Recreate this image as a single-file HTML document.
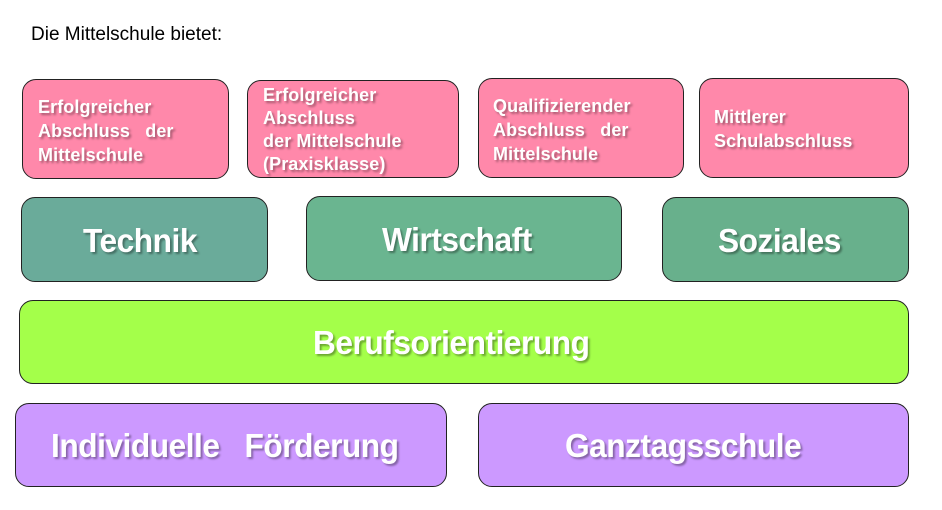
<!DOCTYPE html>
<html><head><meta charset="utf-8"><style>
body{margin:0;width:942px;height:510px;background:#fff;position:relative;overflow:hidden;font-family:"Liberation Sans",Arial,sans-serif}
.b{position:absolute;border:1.3px solid #222;border-radius:14px;box-sizing:border-box}
.t{position:absolute;color:#fff;font-weight:bold;text-shadow:2px 2px 2px rgba(0,0,0,.35);white-space:nowrap}
.s{font-size:18px;line-height:24px;letter-spacing:0.1px}
.L{font-size:33px;line-height:40px;transform:scaleX(.96);transform-origin:left center;letter-spacing:-0.5px}
.p{background:#ff88aa}
</style></head><body>
<div class="t" style="left:31px;top:24px;color:#000;font-weight:normal;text-shadow:none;font-size:19px">Die Mittelschule bietet:</div>

<div class="b p" style="left:22px;top:79px;width:207px;height:100px"></div>
<div class="t s" style="left:38px;top:95px">Erfolgreicher<br>Abschluss&nbsp;&nbsp; der<br>Mittelschule</div>
<div class="b p" style="left:247px;top:80px;width:212px;height:98px"></div>
<div class="t s" style="left:263px;top:84px;line-height:23px">Erfolgreicher<br>Abschluss<br>der Mittelschule<br>(Praxisklasse)</div>
<div class="b p" style="left:478px;top:78px;width:206px;height:100px"></div>
<div class="t s" style="left:493px;top:94px">Qualifizierender<br>Abschluss&nbsp;&nbsp; der<br>Mittelschule</div>
<div class="b p" style="left:699px;top:78px;width:210px;height:100px"></div>
<div class="t s" style="left:714px;top:105px">Mittlerer<br>Schulabschluss</div>

<div class="b" style="left:21px;top:197px;width:247px;height:85px;background:#6aab9a"></div>
<div class="t L" style="left:83px;top:221px">Technik</div>
<div class="b" style="left:306px;top:196px;width:316px;height:85px;background:#6ab590"></div>
<div class="t L" style="left:382px;top:220px">Wirtschaft</div>
<div class="b" style="left:662px;top:197px;width:247px;height:85px;background:#68b08c"></div>
<div class="t L" style="left:718px;top:221px">Soziales</div>

<div class="b" style="left:19px;top:300px;width:890px;height:84px;background:#a4ff4a"></div>
<div class="t L" style="left:313px;top:323px">Berufsorientierung</div>

<div class="b" style="left:15px;top:403px;width:432px;height:84px;background:#cc99ff"></div>
<div class="t L" style="left:51px;top:426px">Individuelle&nbsp;&nbsp; Förderung</div>
<div class="b" style="left:478px;top:403px;width:431px;height:84px;background:#cc99ff"></div>
<div class="t L" style="left:565px;top:426px">Ganztagsschule</div>
</body></html>
